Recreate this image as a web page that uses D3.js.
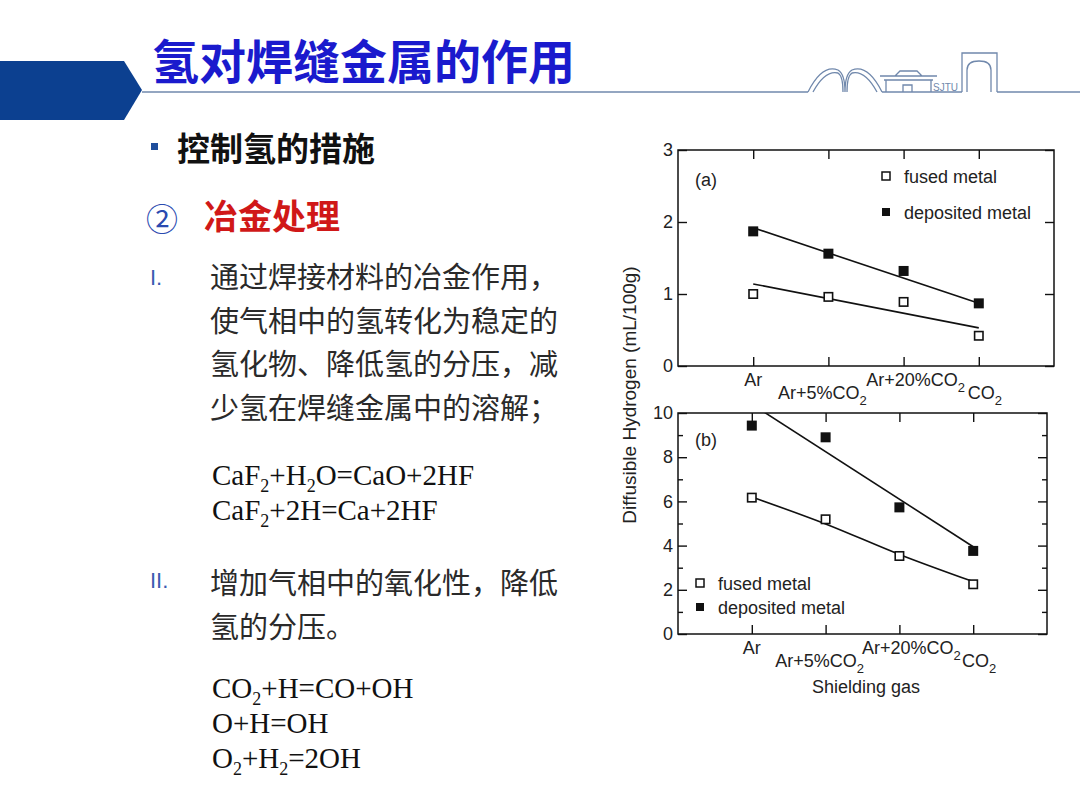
<!DOCTYPE html>
<html>
<head>
<meta charset="utf-8">
<script src="https://cdn.jsdelivr.net/npm/d3@7"></script>
<style>
  body { margin: 0; background: #fff; }
  svg { display: block; }
</style>
</head>
<body>
<script>
// 数据
const categories = ["Ar", "Ar+5%CO2", "Ar+20%CO2", "CO2"];
const fusedA = [1.00, 0.96, 0.89, 0.42];
const depositedA = [1.87, 1.56, 1.32, 0.87];
const fusedB = [6.17, 5.19, 3.53, 2.25];
const depositedB = [9.43, 8.90, 5.73, 3.76];
// 拟合线
const fitEnds = ["Ar", "CO2"];
const fusedFitA = [1.14, 0.53];
const depositedFitA = [1.92, 0.87];
const depositedFitB = [10.4, 3.95];
const fusedFitB = [6.20, 4.98, 3.60, 2.37];
const yTicksA = [0, 1, 2, 3];
const yTicksB = [0, 2, 4, 6, 8, 10];
const yMinorB = [1, 3, 5, 7, 9];
const legendLabels = ["fused metal", "deposited metal"];

const bodyLines1 = ["通过焊接材料的冶金作用，", "使气相中的氢转化为稳定的", "氢化物、降低氢的分压，减", "少氢在焊缝金属中的溶解；"];
const bodyLines2 = ["增加气相中的氧化性，降低", "氢的分压。"];
const equations1 = ["CaF2+H2O=CaO+2HF", "CaF2+2H=Ca+2HF"];
const equations2 = ["CO2+H=CO+OH", "O+H=OH", "O2+H2=2OH"];

const CJK = "'Noto Sans CJK SC', sans-serif";
const SANS = "'Liberation Sans', Arial, sans-serif";
const SERIF = "'Liberation Serif', 'Times New Roman', serif";
const INK = "#111";

const svg = d3.select("body").append("svg")
  .attr("width", 1080).attr("height", 810);

// 化学式：字母后面的数字作为下标
const chem = (sel, str, subSize, subDy) => {
  const runs = [];
  [...str].forEach((c, i) => {
    const sub = /[0-9]/.test(c) && i > 0 && /[A-Za-z]/.test(str[i - 1]);
    if (runs.length && runs[runs.length - 1].sub === sub) runs[runs.length - 1].t += c;
    else runs.push({ t: c, sub });
  });
  let down = false;
  runs.forEach(r => {
    const ts = sel.append("tspan").text(r.t);
    if (r.sub) { ts.attr("dy", subDy).attr("font-size", subSize); down = true; }
    else if (down) { ts.attr("dy", -subDy); down = false; }
  });
};

// ---------- 页眉 ----------
svg.append("polygon")
  .attr("points", "0,61 124,61 142,90 124,120 0,120")
  .attr("fill", "#0c4090");

svg.append("text")
  .attr("x", 152).attr("y", 58)
  .attr("dominant-baseline", "central")
  .attr("font-family", CJK).attr("font-weight", "bold")
  .attr("font-size", 47).attr("fill", "#1a1acd")
  .text("氢对焊缝金属的作用");

const hdr = "#7088ac";
svg.append("line").attr("x1", 142).attr("x2", 808).attr("y1", 92).attr("y2", 92)
  .attr("stroke", hdr).attr("stroke-width", 1.5);
svg.append("line").attr("x1", 997).attr("x2", 1080).attr("y1", 92).attr("y2", 92)
  .attr("stroke", hdr).attr("stroke-width", 1.5);

// 校徽轮廓
const logo = svg.append("g").attr("fill", "none").attr("stroke", hdr).attr("stroke-width", 1.3);
logo.append("path").attr("d", "M808,92 Q822,64 838,70 Q845,74 845,92 M845,92 Q845,74 852,70 Q868,64 882,92");
logo.append("path").attr("d", "M813,92 Q825,70 838,73 Q843,76 843,92 M847,92 Q847,76 852,73 Q865,70 877,92");
logo.append("path").attr("d", "M880,76 L937,76 M884,80 L933,80 M886,80 L886,92 M931,80 L931,92 M903,92 L903,85 L912,85 L912,92 M895,76 L900,71 L917,71 L922,76");
logo.append("path").attr("d", "M962,92 L962,53 L997,53 L997,92 M967,92 L967,70 Q967,61 979,61 Q991,61 991,70 L991,92");
logo.append("line").attr("x1", 882).attr("x2", 962).attr("y1", 92).attr("y2", 92);
svg.append("text").attr("x", 933).attr("y", 91)
  .attr("font-family", SANS).attr("font-size", 10).attr("fill", hdr)
  .text("SJTU");

// ---------- 左侧文字 ----------
svg.append("rect").attr("x", 151).attr("y", 143).attr("width", 7).attr("height", 7)
  .attr("fill", "#1f4e9c");
svg.append("text").attr("x", 177).attr("y", 147)
  .attr("dominant-baseline", "central")
  .attr("font-family", CJK).attr("font-weight", "bold").attr("font-size", 33).attr("fill", "#111")
  .text("控制氢的措施");

svg.append("text").attr("x", 146).attr("y", 217)
  .attr("dominant-baseline", "central")
  .attr("font-family", CJK).attr("font-size", 32).attr("fill", "#2a4ab0")
  .text("②");
svg.append("text").attr("x", 204).attr("y", 214)
  .attr("dominant-baseline", "central")
  .attr("font-family", CJK).attr("font-weight", "bold").attr("font-size", 34).attr("fill", "#d01818")
  .text("冶金处理");

const roman = (label, y) => svg.append("text").attr("x", 150).attr("y", y)
  .attr("dominant-baseline", "central")
  .attr("font-family", SANS).attr("font-size", 22).attr("fill", "#3a5bb0")
  .text(label);
roman("I.", 277);
roman("II.", 580);

const bodyText = (lines, y0) => svg.append("g").selectAll("text").data(lines).join("text")
  .attr("x", 210).attr("y", (d, i) => y0 + i * 43.5)
  .attr("dominant-baseline", "central")
  .attr("font-family", CJK).attr("font-size", 29).attr("fill", "#2a2a2a")
  .text(d => d);
bodyText(bodyLines1, 275);
bodyText(bodyLines2, 581);

const eqText = (lines, y0) => svg.append("g").selectAll("text").data(lines).join("text")
  .attr("x", 212).attr("y", (d, i) => y0 + i * 35)
  .attr("font-family", SERIF).attr("font-size", 29).attr("fill", "#111")
  .each(function (d) { chem(d3.select(this), d, 18, 7); });
eqText(equations1, 485);
eqText(equations2, 698);

// ---------- 图表 ----------
const labelDx = [0, -6, 12, 6];
const labelRow = [0, 1, 0, 1];

const drawPanel = (cfg) => {
  const { left, right, top, bottom, domain, ticks, minor } = cfg;
  const g = svg.append("g");
  const x = d3.scalePoint().domain(categories).range([left, right]).padding(1);
  const y = d3.scaleLinear().domain(domain).range([bottom, top]);

  const clipId = "clip" + cfg.name;
  svg.append("clipPath").attr("id", clipId)
    .append("rect").attr("x", left).attr("y", top)
    .attr("width", right - left).attr("height", bottom - top);

  const styleAxis = a => {
    a.select(".domain").remove();
    a.selectAll(".tick line").attr("stroke", INK).attr("stroke-width", 1.4);
    a.selectAll("text").attr("font-family", SANS).attr("font-size", 18).attr("fill", "#222");
  };

  g.append("g").attr("transform", `translate(${left},0)`)
    .call(d3.axisLeft(y).tickValues(ticks).tickSize(-9).tickPadding(5).tickFormat(d3.format("d")))
    .call(styleAxis);
  g.append("g").attr("transform", `translate(${right},0)`)
    .call(d3.axisRight(y).tickValues(ticks).tickSize(-9).tickFormat(""))
    .call(styleAxis);
  if (minor) {
    g.append("g").attr("transform", `translate(${left},0)`)
      .call(d3.axisLeft(y).tickValues(minor).tickSize(-5).tickFormat(""))
      .call(styleAxis);
    g.append("g").attr("transform", `translate(${right},0)`)
      .call(d3.axisRight(y).tickValues(minor).tickSize(-5).tickFormat(""))
      .call(styleAxis);
  }
  g.append("g").attr("transform", `translate(0,${top})`)
    .call(d3.axisTop(x).tickSize(-9).tickFormat(""))
    .call(styleAxis);
  g.append("g").attr("transform", `translate(0,${bottom})`)
    .call(d3.axisBottom(x).tickSize(-9).tickFormat(""))
    .call(styleAxis);

  g.append("rect").attr("x", left).attr("y", top)
    .attr("width", right - left).attr("height", bottom - top)
    .attr("fill", "none").attr("stroke", INK).attr("stroke-width", 1.5);

  // 分类标签 (交错两行)
  g.append("g").selectAll("text").data(categories).join("text")
    .attr("x", (d, i) => x(d) + labelDx[i])
    .attr("y", (d, i) => bottom + (labelRow[i] ? 33 : 20))
    .attr("text-anchor", "middle")
    .attr("font-family", SANS).attr("font-size", 18).attr("fill", "#222")
    .each(function (d) { chem(d3.select(this), d, 13, 6); });

  // 拟合线
  const line = d3.line().x(d => x(d[0])).y(d => y(d[1]));
  const fits = g.append("g").attr("clip-path", `url(#${clipId})`)
    .attr("fill", "none").attr("stroke", INK).attr("stroke-width", 1.6);
  cfg.fits.forEach(f => {
    fits.append("path")
      .attr("d", line.curve(f.curve || d3.curveLinear)(f.cats.map((c, i) => [c, f.values[i]])));
  });

  // 数据点
  const size = 10;
  g.append("g").selectAll("rect").data(cfg.deposited).join("rect")
    .attr("x", (d, i) => x(categories[i]) - size / 2)
    .attr("y", d => y(d) - size / 2)
    .attr("width", size).attr("height", size).attr("fill", INK);
  g.append("g").selectAll("rect").data(cfg.fused).join("rect")
    .attr("x", (d, i) => x(categories[i]) - (size - 1.6) / 2)
    .attr("y", d => y(d) - (size - 1.6) / 2)
    .attr("width", size - 1.6).attr("height", size - 1.6)
    .attr("fill", "#fff").attr("stroke", INK).attr("stroke-width", 1.6);

  // 图例
  const lg = g.append("g").selectAll("g").data(legendLabels).join("g")
    .attr("transform", (d, i) => `translate(${cfg.legend[0]},${cfg.legend[1] + i * cfg.legend[2]})`);
  lg.append("rect")
    .attr("x", -4).attr("y", -4).attr("width", 8).attr("height", 8)
    .attr("fill", (d, i) => i ? INK : "#fff")
    .attr("stroke", INK).attr("stroke-width", (d, i) => i ? 0 : 1.5);
  lg.append("text").attr("x", 18).attr("y", 6.5)
    .attr("font-family", SANS).attr("font-size", 18).attr("fill", "#222")
    .text(d => d);

  g.append("text").attr("x", left + 17).attr("y", cfg.tagY)
    .attr("font-family", SANS).attr("font-size", 18).attr("fill", "#222")
    .text(cfg.tag);
};

drawPanel({
  name: "a", left: 678, right: 1054, top: 150, bottom: 366,
  domain: [0, 3], ticks: yTicksA, minor: null,
  fused: fusedA, deposited: depositedA,
  fits: [
    { cats: fitEnds, values: fusedFitA },
    { cats: fitEnds, values: depositedFitA }
  ],
  legend: [886, 176, 36], tag: "(a)", tagY: 186
});

drawPanel({
  name: "b", left: 678, right: 1047, top: 413, bottom: 634,
  domain: [0, 10], ticks: yTicksB, minor: yMinorB,
  fused: fusedB, deposited: depositedB,
  fits: [
    { cats: categories, values: fusedFitB, curve: d3.curveMonotoneX },
    { cats: fitEnds, values: depositedFitB }
  ],
  legend: [700, 583, 24], tag: "(b)", tagY: 446
});

// 轴标题
svg.append("text")
  .attr("transform", "translate(636,395) rotate(-90)")
  .attr("text-anchor", "middle")
  .attr("font-family", SANS).attr("font-size", 19).attr("fill", "#222")
  .text("Diffusible Hydrogen (mL/100g)");
svg.append("text")
  .attr("x", 866).attr("y", 693)
  .attr("text-anchor", "middle")
  .attr("font-family", SANS).attr("font-size", 18).attr("fill", "#222")
  .text("Shielding gas");
</script>
</body>
</html>
